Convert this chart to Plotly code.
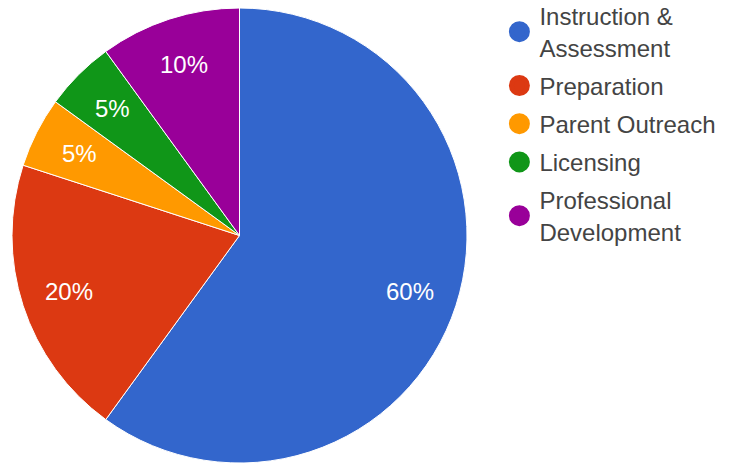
import math
import plotly.graph_objects as go

categories = ["Instruction &<br>Assessment", "Preparation", "Parent Outreach", "Licensing", "Professional<br>Development"]
values = [60, 20, 5, 5, 10]
colors = ["#3366cc", "#dc3912", "#ff9900", "#109618", "#990099"]

W, H = 730, 463
FONT = "Liberation Sans, Arial, sans-serif"
PIE_X = [12 / W, 467 / W]
PIE_Y = [0, 455 / H]

fig = go.Figure()
fig.add_trace(go.Pie(
    labels=categories, values=values, sort=False, direction="clockwise", rotation=0,
    marker=dict(colors=colors, line=dict(color="white", width=1)),
    textinfo="none",
    domain=dict(x=PIE_X, y=PIE_Y),
    showlegend=False, hoverinfo="label+percent",
))

# percentage labels placed along each slice's mid-angle (derived from the data)
cx = (PIE_X[0] + PIE_X[1]) / 2 * W
cy = H - (PIE_Y[0] + PIE_Y[1]) / 2 * H
R = (PIE_X[1] - PIE_X[0]) * W / 2
total = sum(values)
cum = 0
for v in values:
    mid = (cum + v / 2) / total * 2 * math.pi
    cum += v
    r = 0.79 * R
    px = cx + r * math.sin(mid)
    py = cy - r * math.cos(mid)
    fig.add_annotation(
        x=px / W, y=1 - py / H, xref="paper", yref="paper",
        text=f"{round(v / total * 100)}%", showarrow=False,
        xanchor="center", yanchor="middle",
        font=dict(family=FONT, size=24, color="white"),
    )

for i, (name, col) in enumerate(zip(categories, colors)):
    fig.add_trace(go.Scatter(
        x=[None], y=[None], mode="markers", name=name, legendgroup=str(i),
        marker=dict(symbol="circle", size=16, color=col, line=dict(color=col, width=5)),
        showlegend=True,
    ))

fig.update_layout(
    width=W, height=H, margin=dict(l=0, r=0, t=0, b=0, autoexpand=False),
    paper_bgcolor="white", plot_bgcolor="white",
    xaxis=dict(visible=False), yaxis=dict(visible=False),
    legend=dict(x=0.68 + 3 / W, y=1.0 + 6 / H, xanchor="left", yanchor="top",
                font=dict(family=FONT, size=24, color="#444444"), maxheight=600,
                tracegroupgap=4, itemsizing="trace", bgcolor="rgba(0,0,0,0)"),
)
fig.write_html("out.html")
